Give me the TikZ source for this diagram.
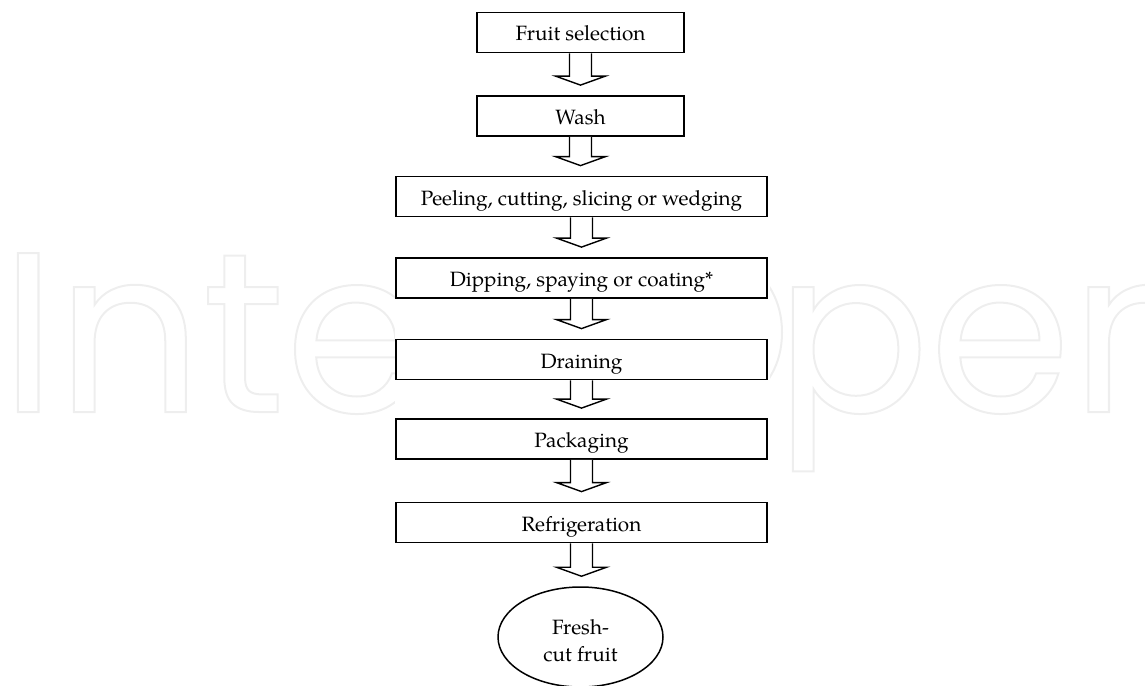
\documentclass[tikz,border=0pt]{standalone}
\usepackage{fontspec}
\setmainfont{texgyrepagella-regular.otf}
\newfontfamily\wmfont{Poppins}
\usetikzlibrary{shapes.geometric,calc}
\newcommand{\fatarrow}[2]{%
  \draw[fat] let \p1=(#1.south), \p2=(#2.north) in
    (\x1-11pt,\y1) -- (\x1-11pt,\y2+19pt) -- (\x1-25pt,\y2+19pt) -- (\x1,\y2+10pt)
    -- (\x1+25pt,\y2+19pt) -- (\x1+11pt,\y2+19pt) -- (\x1+11pt,\y1);}
\newcommand{\outlined}[1]{\special{pdf:literal direct 1 Tr 2 w}#1\special{pdf:literal direct 0 Tr}}
\begin{document}
\begin{tikzpicture}[x=1pt,y=1pt,
  box/.style={draw=black, line width=1.8pt, fill=white, minimum height=40pt, inner sep=0pt,
    text height=17pt, text depth=0pt, font=\fontsize{20.7}{24}\selectfont},
  narrow/.style={box, minimum width=207pt},
  wide/.style={box, minimum width=371pt},
  endnode/.style={ellipse, draw=black, line width=1.5pt, fill=white, minimum width=165pt,
    minimum height=100pt, inner sep=0pt},
  endtext/.style={align=center, font=\fontsize{20.7}{27}\selectfont},
  fat/.style={draw=black, line width=1.4pt, fill=white, line join=miter},
  wm/.style={inner sep=0pt, text=gray!13, font=\wmfont\fontsize{228}{228}\selectfont}]
\useasboundingbox (0,0) rectangle (1145,-685);
\node[wm, anchor=base west] (wmA) at (0,-412) {\outlined{Intech}};
\node[wm, anchor=base east] (wmO) at (792,-412) {\outlined{O}};
\node[wm, anchor=base west] (wmB) at (775,-412) {\outlined{pen}};
\fill[white] (395,0) rectangle (770,-685);

\node[narrow] (sel) at (580.5,-32.5) {Fruit selection};
\node[narrow] (wash) at (580.5,-116) {Wash};
\node[wide] (peel) at (581.5,-196.5) {Peeling, cutting, slicing or wedging};
\node[wide] (dip) at (581.5,-278) {Dipping, spaying or coating*};
\node[wide] (drain) at (581.5,-359.5) {Draining};
\node[wide] (pack) at (581.5,-439) {Packaging};
\node[wide] (refr) at (581.5,-522.5) {Refrigeration};
\node[endnode, label={[endtext, yshift=-4pt]center:Fresh-\\cut fruit}] (fresh) at (580.5,-637) {};

\fatarrow{sel}{wash}
\fatarrow{wash}{peel}
\fatarrow{peel}{dip}
\fatarrow{dip}{drain}
\fatarrow{drain}{pack}
\fatarrow{pack}{refr}
\fatarrow{refr}{fresh}
\end{tikzpicture}
\end{document}
